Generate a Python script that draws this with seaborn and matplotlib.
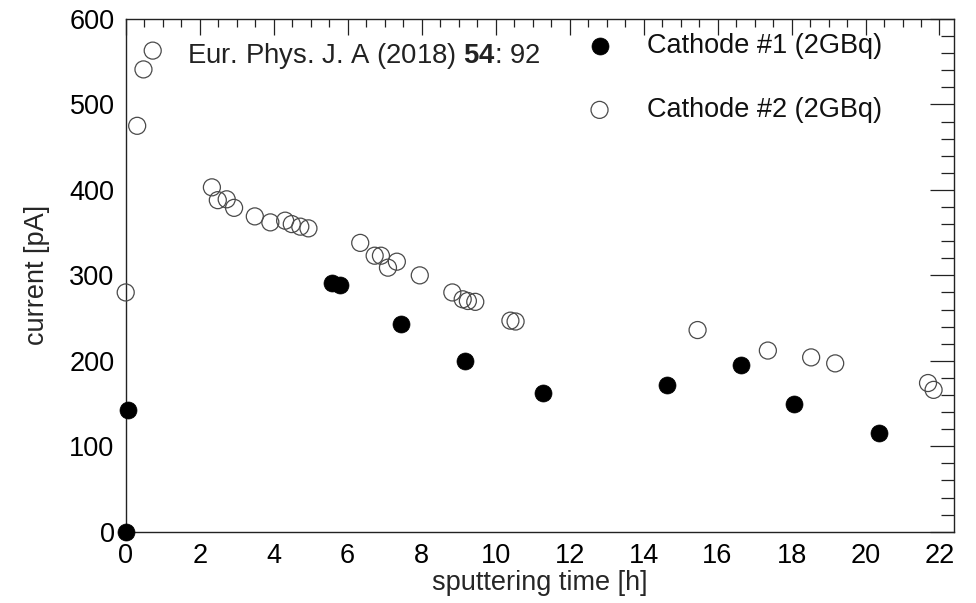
import matplotlib
matplotlib.use("Agg")
import matplotlib.pyplot as plt
from matplotlib.ticker import MultipleLocator
import seaborn as sns
import pandas as pd

# Sputtering time [h] and measured current [pA] for both cathodes
time_c1 = [0.0, 0.05, 5.58, 5.80, 7.45, 9.17, 11.27, 14.63, 16.64, 18.06, 20.36]
current_c1 = [0, 142, 291, 289, 243, 200, 162, 172, 195, 149, 115]

time_c2 = [0.0, 0.31, 0.48, 0.73, 2.33, 2.49, 2.73, 2.93, 3.49, 3.91, 4.31,
           4.49, 4.72, 4.94, 6.34, 6.73, 6.90, 7.09, 7.33, 7.95, 8.83, 9.11,
           9.25, 9.45, 10.40, 10.54, 15.46, 17.36, 18.53, 19.18, 21.69, 21.84]
current_c2 = [280, 475, 541, 563, 403, 388, 389, 379, 369, 362, 364,
              360, 357, 355, 338, 323, 323, 309, 316, 300, 280, 272,
              270, 269, 247, 246, 236, 212, 204, 197, 174, 166]

label_c1 = "Cathode #1 (2GBq)"
label_c2 = "Cathode #2 (2GBq)"
x_ticks = list(range(0, 23, 2))
y_ticks = list(range(0, 601, 100))

df1 = pd.DataFrame({"t": time_c1, "I": current_c1})
df2 = pd.DataFrame({"t": time_c2, "I": current_c2})

sns.set_style("white")
plt.rcParams["font.family"] = ["Liberation Sans", "DejaVu Sans"]
plt.rcParams["mathtext.fontset"] = "custom"
plt.rcParams["mathtext.rm"] = "Liberation Sans"
plt.rcParams["mathtext.bf"] = "Liberation Sans:bold"

FS = 19.5
ink = "#222222"

fig = plt.figure(figsize=(9.76, 6.03), dpi=100)
ax = fig.add_axes([0.1288, 0.1182, 0.8482, 0.8503])

sns.scatterplot(data=df1, x="t", y="I", ax=ax, s=150, color="black",
                edgecolor="black", linewidth=0.5, label=label_c1,
                clip_on=False, zorder=3)
sns.scatterplot(data=df2, x="t", y="I", ax=ax, s=150, facecolor="none",
                edgecolor="#4a4a4a", linewidth=0.9, label=label_c2,
                clip_on=False, zorder=3)

ax.set_xlim(0, 22.38)
ax.set_ylim(0, 600)
ax.set_xticks(x_ticks)
ax.set_yticks(y_ticks)
ax.xaxis.set_minor_locator(MultipleLocator(0.5))
ax.yaxis.set_minor_locator(MultipleLocator(20))

ax.tick_params(axis="both", which="both", direction="in", top=True,
               right=True, color=ink, width=0.9, labelsize=FS,
               labelcolor="black")
ax.tick_params(axis="x", which="major", length=11.5, pad=8)
ax.tick_params(axis="x", which="minor", length=5.5)
ax.tick_params(axis="y", which="major", length=17.5, pad=8)
ax.tick_params(axis="y", which="minor", length=9.5)

for sp in ax.spines.values():
    sp.set_visible(True)
    sp.set_color(ink)
    sp.set_linewidth(1.0)

ax.set_xlabel("sputtering time [h]", fontsize=FS, labelpad=1)
ax.set_ylabel("current [pA]", fontsize=FS, labelpad=14)

ax.text(0.074, 0.928, r"Eur. Phys. J. A (2018) $\mathbf{54}$: 92",
        transform=ax.transAxes, fontsize=FS + 0.3, va="center", ha="left",
        color="#222222")

leg = ax.legend(loc="upper left", bbox_to_anchor=(0.556, 0.972),
                frameon=False, fontsize=FS, handlelength=1.0,
                handletextpad=1.25, labelspacing=1.39, borderpad=0.0,
                borderaxespad=0.0, markerscale=1.0)
for t in leg.get_texts():
    t.set_color("#111111")

fig.savefig("out.png", dpi=100)
